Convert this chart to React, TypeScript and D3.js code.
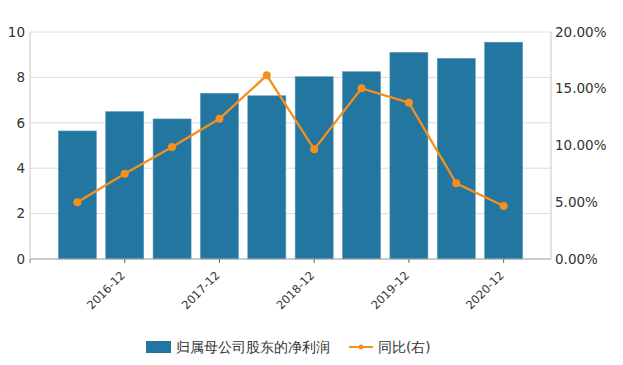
import React from "react";
import * as d3 from "d3";

const categories = ["2016-06", "2016-12", "2017-06", "2017-12", "2018-06", "2018-12", "2019-06", "2019-12", "2020-06", "2020-12"];
const shownLabels = ["2016-12", "2017-12", "2018-12", "2019-12", "2020-12"];
const profitValues = [5.64, 6.49, 6.17, 7.3, 7.19, 8.03, 8.25, 9.1, 8.84, 9.55];
const yoyValues = [5.0, 7.52, 9.87, 12.36, 16.18, 9.66, 15.04, 13.77, 6.67, 4.67];
const leftTicks = [0, 2, 4, 6, 8, 10];
const rightTicks = [0, 5, 10, 15, 20];
const barName = "归属母公司股东的净利润";
const lineName = "同比(右)";

const W = 623;
const H = 365;
const left = 30;
const right = 551;
const top = 32;
const bottom = 259;
const BAR = "#22769f";
const ORANGE = "#f5901e";
const FONT = "'DejaVu Sans', Verdana, sans-serif";

export default function App() {
  const x = d3.scalePoint<string>().domain(categories).range([left, right]).padding(1);
  const yL = d3.scaleLinear().domain([0, 10]).range([bottom, top]);
  const yR = d3.scaleLinear().domain([0, 20]).range([bottom, top]);
  const bw = 38;
  const line = d3
    .line<number>()
    .x((_, i) => x(categories[i])!)
    .y((d) => yR(d));

  return (
    <svg width={W} height={H} style={{ position: "absolute", left: 0, top: 0, background: "#fff" }} fontFamily={FONT}>
      {leftTicks.map((t) => (
        <line key={"g" + t} x1={left} x2={right} y1={yL(t)} y2={yL(t)} stroke="#dcdcdc" strokeWidth={1} />
      ))}
      {profitValues.map((v, i) => (
        <rect
          key={"b" + i}
          x={x(categories[i])! - bw / 2}
          y={yL(v)}
          width={bw}
          height={bottom - yL(v)}
          fill={BAR}
          stroke="#5a97b8"
          strokeWidth={0.6}
        />
      ))}
      <line x1={left} x2={left} y1={top} y2={bottom} stroke="#c8c8c8" />
      <line x1={right} x2={right} y1={top} y2={bottom} stroke="#c8c8c8" />
      <line x1={left} x2={right} y1={bottom} y2={bottom} stroke="#aaaaaa" />
      <line x1={left} x2={left} y1={bottom} y2={bottom + 4} stroke="#888" />
      {shownLabels.map((c) => (
        <g key={"t" + c}>
          <line x1={x(c)!} x2={x(c)!} y1={bottom} y2={bottom + 4} stroke="#666" />
          <text
            transform={`translate(${x(c)! + 1},${bottom + 17}) rotate(-45)`}
            textAnchor="end"
            fontSize={11.5}
            fill="#333"
          >
            {c}
          </text>
        </g>
      ))}
      {leftTicks.map((t) => (
        <text key={"l" + t} x={left - 5} y={yL(t)} dy="0.35em" textAnchor="end" fontSize={13.5} fill="#333">
          {t}
        </text>
      ))}
      {rightTicks.map((t) => (
        <text key={"r" + t} x={right + 4} y={yR(t)} dy="0.35em" textAnchor="start" fontSize={13.5} fill="#333">
          {t.toFixed(2) + "%"}
        </text>
      ))}
      <path d={line(yoyValues)!} fill="none" stroke={ORANGE} strokeWidth={2.3} />
      {yoyValues.map((v, i) => (
        <circle key={"c" + i} cx={x(categories[i])!} cy={yR(v)} r={4} fill={ORANGE} />
      ))}
      <g>
        <rect x={146} y={341} width={25} height={12} fill={BAR} />
        <text x={176} y={347} dy="0.35em" fontSize={13.6} fill="#333">
          {barName}
        </text>
        <line x1={349} x2={373} y1={347} y2={347} stroke={ORANGE} strokeWidth={2} />
        <circle cx={361} cy={347} r={2.5} fill={ORANGE} />
        <text x={378} y={347} dy="0.35em" fontSize={13.6} fill="#333">
          {lineName}
        </text>
      </g>
    </svg>
  );
}
